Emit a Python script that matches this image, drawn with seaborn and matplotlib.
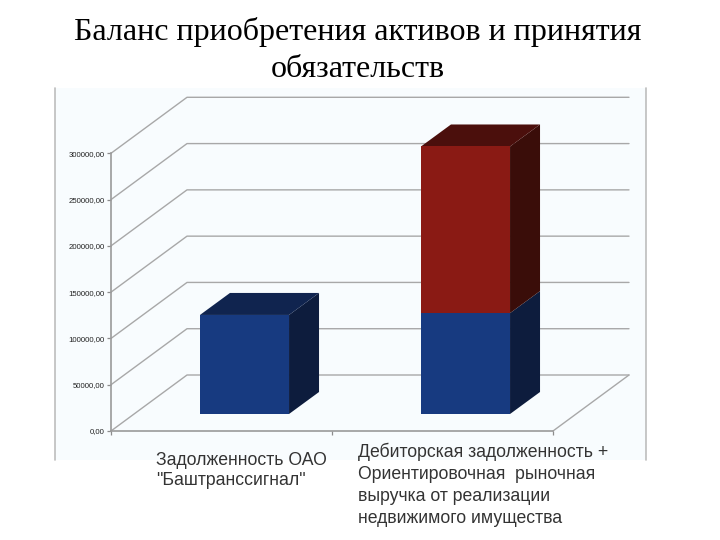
import numpy as np
import pandas as pd
import matplotlib
matplotlib.use("Agg")
import matplotlib.pyplot as plt
from matplotlib.patches import Polygon, Rectangle
from matplotlib.transforms import ScaledTranslation
import seaborn as sns

title = "Баланс приобретения активов и принятия\nобязательств"
categories = ['Задолженность ОАО\n"Баштранссигнал"',
              'Дебиторская задолженность +\nОриентировочная  рыночная\nвыручка от реализации\nнедвижимого имущества']
blue_values = [107000, 109000]
red_values = [0, 180000]
tick_values = [0, 50000, 100000, 150000, 200000, 250000, 300000]
tick_labels = ["0,00", "50000,00", "100000,00", "150000,00", "200000,00", "250000,00", "300000,00"]

BLUE = ("#173A80", "#10244F", "#0D1C3D")
RED = ("#8A1A14", "#4B0F0C", "#3A0D09")
GRID = "#A8A8A8"

sns.set_theme(style="white")
W, H = 720, 540
fig = plt.figure(figsize=(7.2, 5.4), dpi=100, facecolor="white")
ax = fig.add_axes([111 / W, 1 - 431 / H, 442 / W, 277.7 / H])
ax.patch.set_alpha(0)

# pale chart panel with its side rules
fig.add_artist(Rectangle((55 / W, 1 - 460 / H), 591 / W, 372 / H, transform=fig.transFigure,
                         facecolor="#F8FCFE", edgecolor="none", zorder=-5))
for px in (55, 646):
    fig.add_artist(plt.Line2D([px / W, px / W], [1 - 460 / H, 1 - 88 / H], color="#BDBDBD", lw=1.2, zorder=-4))

df = pd.DataFrame({"category": categories, "blue": blue_values, "red": red_values})
sns.barplot(data=df, x="category", y="blue", color=BLUE[0], saturation=1, width=0.403, ax=ax, zorder=5)
sns.barplot(data=df, x="category", y="red", bottom=df["blue"], color=RED[0], saturation=1, width=0.403, ax=ax, zorder=5)

ax.set_xlim(-0.5, 1.5)
ax.set_ylim(0, 300000)

# depth of the 3D box, in data units
val_per_px = 300000 / 277.7
x_per_px = 2 / 442
box_dx, box_dy = 76 * x_per_px, 56 * val_per_px
bar_dx, bar_dy = 23 * x_per_px, 17 * val_per_px
side_dx, side_dy = 30 * x_per_px, 22 * val_per_px

# gridlines on side wall and back wall
for v in tick_values:
    ax.plot([-0.5, -0.5 + box_dx, 1.5 + box_dx], [v, v + box_dy, v + box_dy],
            color=GRID, lw=1.0, clip_on=False, zorder=1)
ax.plot([1.5, 1.5 + box_dx], [0, box_dy], color=GRID, lw=1.0, clip_on=False, zorder=1)

# move front faces into the bar plane, add top and side faces
offset = ScaledTranslation(23 / 100, 17 / 100, fig.dpi_scale_trans)
for p in ax.patches:
    p.set_transform(ax.transData + offset)
    p.set_clip_on(False)
    p.set_linewidth(0)


def box(i, low, high, cols, top):
    half = 0.403 / 2
    x0, x1 = i - half + bar_dx, i + half + bar_dx
    y0, y1 = low + bar_dy, high + bar_dy
    ax.add_patch(Polygon([(x1, y0), (x1 + side_dx, y0 + side_dy), (x1 + side_dx, y1 + side_dy), (x1, y1)],
                         closed=True, facecolor=cols[2], edgecolor="none", clip_on=False, zorder=4))
    if top:
        ax.add_patch(Polygon([(x0, y1), (x1, y1), (x1 + side_dx, y1 + side_dy), (x0 + side_dx, y1 + side_dy)],
                             closed=True, facecolor=cols[1], edgecolor="none", clip_on=False, zorder=4))


for i, (b, r) in enumerate(zip(blue_values, red_values)):
    box(i, 0, b, BLUE, r == 0)
    if r > 0:
        box(i, b, b + r, RED, True)

ax.set_xlabel("")
ax.set_ylabel("")
ax.set_yticks(tick_values)
ax.set_yticklabels(tick_labels, fontsize=5.6, color="#222222", family="Liberation Sans")
ax.tick_params(axis="y", left=True, length=3, width=0.9, color="#8C8C8C", pad=1.6)
ax.set_xticks([-0.5, 0.5, 1.5], minor=True)
ax.tick_params(axis="x", which="minor", bottom=True, length=3, width=0.9, color="#8C8C8C")
ax.tick_params(axis="x", which="major", bottom=False, length=0)
ax.set_xticks([0, 1])
ax.set_xticklabels(categories, fontsize=12.7, color="#333333", family="Liberation Sans", ha="left")
shifts = [(-65.5, -16), (-84.5, -7)]
spacings = [1.26, 1.39]
for lab, (sx, sy), ls in zip(ax.get_xticklabels(), shifts, spacings):
    lab.set_linespacing(ls)
    lab.set_transform(lab.get_transform() + ScaledTranslation(sx / 100, sy / 100, fig.dpi_scale_trans))

for s in ("top", "right"):
    ax.spines[s].set_visible(False)
for s in ("left", "bottom"):
    ax.spines[s].set_color("#9A9A9A")
    ax.spines[s].set_linewidth(1.2)

fig.suptitle(title, x=358 / W, y=1 - 17 / H, va="top", ha="center", fontsize=23,
             family="Liberation Serif", color="black", linespacing=1.36)

fig.savefig("out.png", dpi=100)
